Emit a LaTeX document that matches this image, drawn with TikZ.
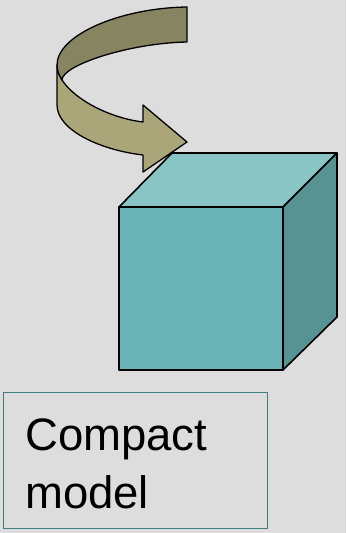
\documentclass[tikz,border=0pt]{standalone}
\usepackage{fontspec}
\setmainfont{Liberation Sans}
\definecolor{bg}{HTML}{DDDDDD}
\definecolor{cubefront}{HTML}{6AB4B7}
\definecolor{cubetop}{HTML}{8AC5C6}
\definecolor{cubeside}{HTML}{569392}
\definecolor{arrowdark}{HTML}{878462}
\definecolor{arrowlight}{HTML}{AAA67A}
\definecolor{boxline}{HTML}{407D7D}
\tikzset{
  face/.style={draw=black, line width=1.6pt, line join=round},
  band/.style={draw=black, line width=1.3pt, line join=round},
  labelbox/.style={draw=boxline, line width=1.3pt, fill=bg, minimum width=264pt, minimum height=136pt, inner sep=0pt},
  labeltext/.style={font=\fontsize{45.5}{58}\selectfont, inner sep=0pt, anchor=base west}
}
\begin{document}
\begin{tikzpicture}[x=1pt,y=-1pt]
\fill[bg] (0,0) rectangle (346,533);
\useasboundingbox (0,0) rectangle (346,533);
% cube
\fill[cubetop, face] (119,207) -- (172,153) -- (337,153) -- (283,207) -- cycle;
\fill[cubeside, face] (283,207) -- (337,153) -- (337,317) -- (283,370) -- cycle;
\fill[cubefront, face] (119,207) rectangle (283,370);
% curved arrow, lower (light) part
\filldraw[arrowlight, band] (57,65) -- (57,105)
  .. controls (57,130) and (100,150) .. (143,155)
  -- (143,172) -- (187,142) -- (143,105) -- (143,122)
  .. controls (110,118) and (75,100) .. (62,80)
  .. controls (60,76) and (57,72) .. (57,65) -- cycle;
% curved arrow, upper (dark) part
\filldraw[arrowdark, band] (187,7)
  .. controls (120,8) and (57,35) .. (57,65)
  .. controls (57,72) and (60,76) .. (62,80)
  .. controls (62,65) and (130,43) .. (187,42) -- cycle;
% label
\node[labelbox, anchor=north west] (box) at (3,392) {};
\node[labeltext] (t1) at (25,450) {Compact};
\node[labeltext] (t2) at (25,508) {model};
\end{tikzpicture}
\end{document}
